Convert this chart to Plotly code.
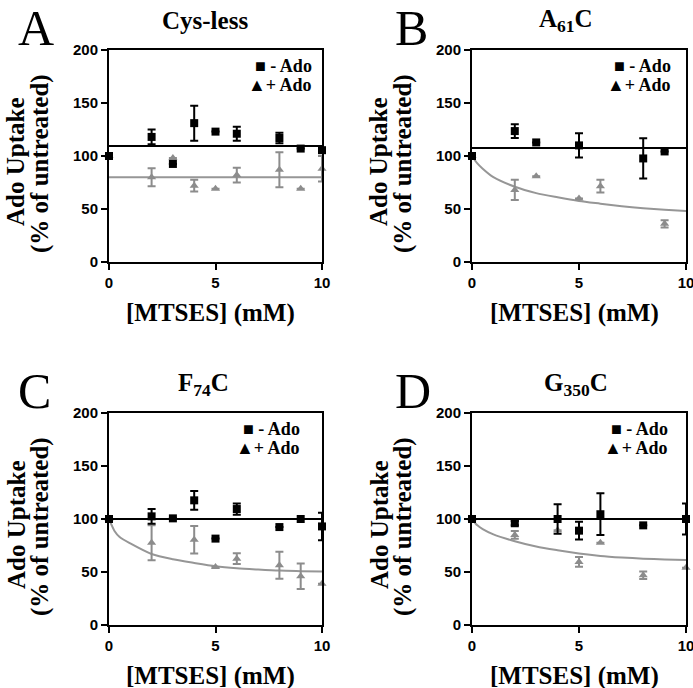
import plotly.graph_objects as go

W, H = 693, 688

# ---------------- data ----------------
x_ticks = [0, 5, 10]
y_ticks = [0, 50, 100, 150, 200]
flat_x = [0, 10]
curve_x = [0, 0.25, 0.5, 1, 2, 3, 4, 5, 6, 7, 8, 9, 10]

# Panel A: Cys-less
a_minus_x = [0, 2, 3, 4, 5, 6, 8, 9, 10]
a_minus_y = [100, 118, 92.5, 131, 123, 121, 117, 107, 105.5]
a_minus_err = [None, 7, None, 16.5, None, 6.5, 5, None, None]
a_plus_x = [0, 2, 3, 4, 5, 6, 8, 9, 10]
a_plus_y = [100, 80, 98, 72, 69, 82, 87, 69, 88]
a_plus_err = [None, 8.5, None, 5.5, None, 7, 16.5, None, 12]
a_fit_minus_y = [109.5, 109.5]
a_fit_plus_y = [80, 80]

# Panel B: A61C
b_minus_x = [0, 2, 3, 5, 8, 9]
b_minus_y = [100, 123.5, 112.8, 110, 97.7, 104.3]
b_minus_err = [None, 6.5, None, 11.5, 19, None]
b_plus_x = [0, 2, 3, 5, 6, 9]
b_plus_y = [100, 68, 81, 60, 71.5, 36]
b_plus_err = [None, 9.5, None, None, 6, 3.5]
b_fit_minus_y = [107.5, 107.5]
b_fit_plus_y = [100, 93, 88, 80, 71, 65, 61, 57.5, 55, 52.6, 50.7, 49.2, 48]

# Panel C: F74C
c_minus_x = [0, 2, 3, 4, 5, 6, 8, 9, 10]
c_minus_y = [100, 102.5, 100.6, 117.6, 81.5, 109.4, 92.4, 100, 93]
c_minus_err = [None, 7, None, 8.8, None, 5.3, None, None, 13]
c_plus_x = [0, 2, 4, 5, 6, 8, 9, 10]
c_plus_y = [100, 77.7, 80.5, 54.7, 62.6, 56.3, 46, 39]
c_plus_err = [None, 16.5, 13, None, 5, 12.7, 12, None]
c_fit_minus_y = [100, 100]
c_fit_plus_y = [100, 89, 83, 77, 67, 62, 58.5, 55.4, 53.5, 52.3, 51.3, 50.8, 50.4]

# Panel D: G350C
d_minus_x = [0, 2, 4, 5, 6, 8, 10]
d_minus_y = [100, 96, 100, 89, 104.5, 94, 100]
d_minus_err = [None, 2, 14, 8.3, 19.7, None, 14.7]
d_plus_x = [0, 2, 4, 5, 6, 8, 10]
d_plus_y = [100, 85, 89.5, 59.5, 77.7, 47, 54]
d_plus_err = [None, 3.6, None, 4.6, None, 3.5, None]
d_fit_minus_y = [100, 100]
d_fit_plus_y = [100, 94, 90.5, 85.5, 79, 74, 70.5, 67.5, 65.2, 63.7, 62.6, 61.8, 61.3]

letters = ["A", "B", "C", "D"]
titles = ["Cys-less", "A<sub>61</sub>C", "F<sub>74</sub>C", "G<sub>350</sub>C"]
legend_labels = ["■ - Ado", "▲+ Ado"]
x_title = "[MTSES] (mM)"
y_title_1 = "Ado Uptake"
y_title_2 = "(% of untreated)"

# ---------------- styling / layout ----------------
BLACK = "#000000"
GRAY = "rgb(140,140,140)"
GRAY_LINE = "rgb(150,150,150)"
SERIF = "Liberation Serif, Times New Roman, serif"
SANS = "Liberation Sans, Arial, sans-serif"


def xp(px):
    return px / W


def yp(py):
    return 1 - py / H


panels = [
    dict(minus=(a_minus_x, a_minus_y, a_minus_err), plus=(a_plus_x, a_plus_y, a_plus_err),
         fit_minus=(flat_x, a_fit_minus_y), fit_plus=(flat_x, a_fit_plus_y),
         box=(109, 322, 50, 262), title_x=205, legend_right=313, letter_x=16),
    dict(minus=(b_minus_x, b_minus_y, b_minus_err), plus=(b_plus_x, b_plus_y, b_plus_err),
         fit_minus=(flat_x, b_fit_minus_y), fit_plus=(curve_x, b_fit_plus_y),
         box=(472, 686, 50, 262), title_x=566, legend_right=672, letter_x=393),
    dict(minus=(c_minus_x, c_minus_y, c_minus_err), plus=(c_plus_x, c_plus_y, c_plus_err),
         fit_minus=(flat_x, c_fit_minus_y), fit_plus=(curve_x, c_fit_plus_y),
         box=(109, 322, 413, 625), title_x=203, legend_right=301, letter_x=16),
    dict(minus=(d_minus_x, d_minus_y, d_minus_err), plus=(d_plus_x, d_plus_y, d_plus_err),
         fit_minus=(flat_x, d_fit_minus_y), fit_plus=(curve_x, d_fit_plus_y),
         box=(472, 686, 413, 625), title_x=576, legend_right=669, letter_x=393),
]

fig = go.Figure()
layout = dict(
    width=W, height=H, margin=dict(l=0, r=0, t=0, b=0, autoexpand=False),
    paper_bgcolor="white", plot_bgcolor="white", showlegend=False,
)
annotations = []

for i, p in enumerate(panels):
    n = "" if i == 0 else str(i + 1)
    xa, ya = "x" + n, "y" + n
    x0, x1, y0, y1 = p["box"]

    fx, fy = p["fit_plus"]
    fig.add_trace(go.Scatter(x=fx, y=fy, xaxis=xa, yaxis=ya, mode="lines",
                             line=dict(color=GRAY_LINE, width=2, shape="spline", smoothing=0.8),
                             hoverinfo="skip", cliponaxis=False))
    fx, fy = p["fit_minus"]
    fig.add_trace(go.Scatter(x=fx, y=fy, xaxis=xa, yaxis=ya, mode="lines",
                             line=dict(color=BLACK, width=2), hoverinfo="skip", cliponaxis=False))
    px_, py_, pe = p["plus"]
    fig.add_trace(go.Scatter(x=px_, y=py_, xaxis=xa, yaxis=ya, mode="markers",
                             marker=dict(symbol="triangle-up", size=8, color=GRAY),
                             error_y=dict(type="data", array=pe, color=GRAY, thickness=2, width=4),
                             cliponaxis=False))
    mx, my, me = p["minus"]
    fig.add_trace(go.Scatter(x=mx, y=my, xaxis=xa, yaxis=ya, mode="markers",
                             marker=dict(symbol="square", size=8, color=BLACK),
                             error_y=dict(type="data", array=me, color=BLACK, thickness=2, width=4),
                             cliponaxis=False))

    common = dict(showline=True, linewidth=2, linecolor=BLACK, mirror=True,
                  ticks="outside", ticklen=6, tickwidth=2, tickcolor=BLACK,
                  showgrid=False, zeroline=False, ticklabeloverflow="allow",
                  tickfont=dict(family=SANS, size=15, color=BLACK, weight="bold"))
    layout["xaxis" + n] = dict(common, domain=[xp(x0), xp(x1)], range=[0, 10],
                               tickvals=x_ticks, anchor=ya)
    layout["yaxis" + n] = dict(common, domain=[yp(y1), yp(y0)], range=[0, 200],
                               tickvals=y_ticks, anchor=xa)

    cx = (x0 + x1) / 2
    cy = (y0 + y1) / 2
    # panel letter
    annotations.append(dict(text=letters[i], x=xp(p["letter_x"]), y=yp(y0 - 22),
                            xref="paper", yref="paper", xanchor="left", yanchor="middle",
                            showarrow=False, font=dict(family=SERIF, size=50, color=BLACK)))
    # title
    annotations.append(dict(text="<b>" + titles[i] + "</b>", x=xp(p["title_x"]), y=yp(y0 - 29),
                            xref="paper", yref="paper", xanchor="center", yanchor="middle",
                            showarrow=False, font=dict(family=SERIF, size=25, color=BLACK)))
    # legend
    for k, lab in enumerate(legend_labels):
        annotations.append(dict(text="<b>" + lab + "</b>", x=xp(p["legend_right"]),
                                y=yp(y0 + 16 + 18.5 * k),
                                xref="paper", yref="paper", xanchor="right", yanchor="middle",
                                showarrow=False, borderpad=0,
                                font=dict(family=SERIF, size=18, color=BLACK)))
    # x title
    annotations.append(dict(text="<b>" + x_title + "</b>", x=xp(cx - 5), y=yp(y1 + 51),
                            xref="paper", yref="paper", xanchor="center", yanchor="middle",
                            showarrow=False, font=dict(family=SERIF, size=25, color=BLACK)))
    # y titles
    annotations.append(dict(text="<b>" + y_title_1 + "</b>", x=xp(x0 - 93), y=yp(cy + 6),
                            xref="paper", yref="paper", xanchor="center", yanchor="middle",
                            textangle=-90, showarrow=False,
                            font=dict(family=SERIF, size=25, color=BLACK)))
    annotations.append(dict(text="<b>" + y_title_2 + "</b>", x=xp(x0 - 69), y=yp(cy + 8),
                            xref="paper", yref="paper", xanchor="center", yanchor="middle",
                            textangle=-90, showarrow=False,
                            font=dict(family=SERIF, size=25, color=BLACK)))

layout["annotations"] = annotations
fig.update_layout(**layout)
fig.write_html(
    "out.html",
    config={"displayModeBar": False},
    post_script=(
        "document.documentElement.style.margin='0';"
        "document.documentElement.style.overflow='hidden';"
        "document.body.style.margin='0';"
        "document.body.style.overflow='hidden';"
    ),
)
